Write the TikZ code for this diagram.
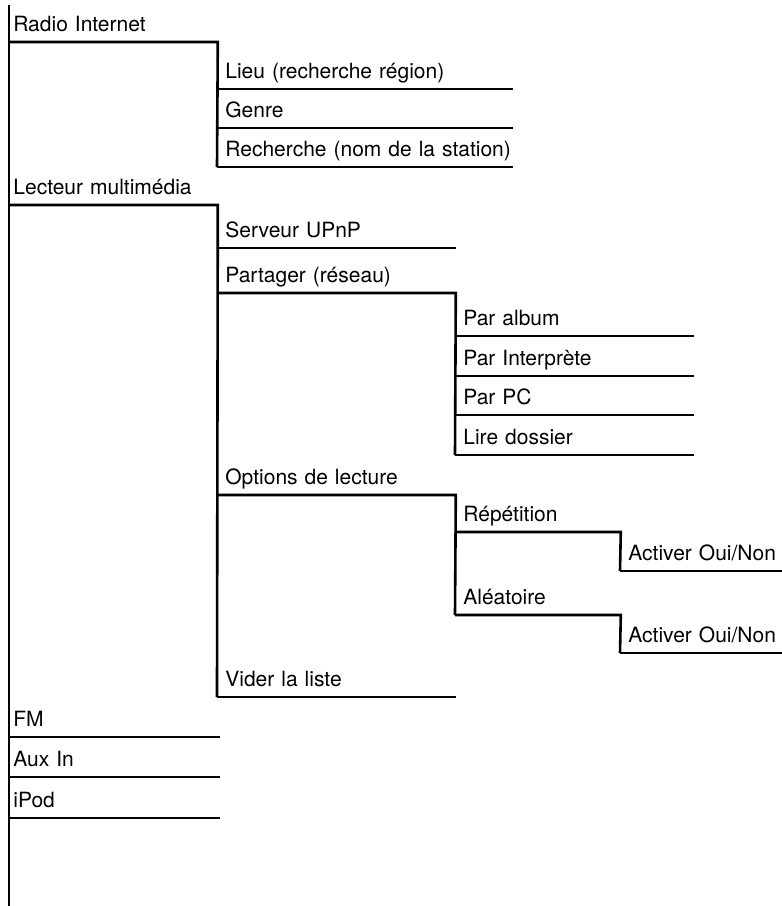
\documentclass[tikz,border=0pt]{standalone}
\usepackage{fontspec}
\setmainfont{TeX Gyre Heros}
\usepackage{tikz}

\tikzset{
  rule/.style={line width=1.3pt},
  toplevel/.style={anchor=south west, inner xsep=0pt, inner ysep=2.5pt,
    text depth=2.5pt, text width=#1, align=left,
    font=\fontsize{10.5}{12}\selectfont,
    execute at begin node={\hspace*{2pt}\hbox\bgroup},
    execute at end node={\egroup}},
  sublevel/.style={anchor=south west, inner xsep=0pt, inner ysep=2.5pt,
    text depth=2.5pt, text width=#1, align=left,
    font=\fontsize{10.5}{12}\selectfont,
    execute at begin node={\hspace*{4pt}\hbox\bgroup},
    execute at end node={\egroup}},
}

\begin{document}
\begin{tikzpicture}[x=0.5pt,y=-0.5pt]
\useasboundingbox (0,0) rectangle (782,906);
\coordinate (root) at (9,5);
\coordinate (rootend) at (9,906);
% first level
\node[toplevel=104pt] (radio) at (9,42) {Radio Internet};
\node[toplevel=104pt] (lecteur) at (9,205) {Lecteur multimédia};
\node[toplevel=105pt] (fm) at (9,737) {FM};
\node[toplevel=105pt] (aux) at (9,777) {Aux In};
\node[toplevel=105pt] (ipod) at (9,818) {iPod};
% radio internet
\node[sublevel=147.5pt] (lieu) at (217,89) {Lieu (recherche région)};
\node[sublevel=147.5pt] (genre) at (217,128) {Genre};
\node[sublevel=147.5pt] (recherche) at (217,167) {Recherche (nom de la station)};
% lecteur multimedia
\node[sublevel=119pt] (upnp) at (217,248) {Serveur UPnP};
\node[sublevel=119pt] (partager) at (217,293) {Partager (réseau)};
\node[sublevel=119pt] (options) at (217,495) {Options de lecture};
\node[sublevel=119pt] (vider) at (217,697) {Vider la liste};
% partager
\node[sublevel=119pt] (album) at (455,336) {Par album};
\node[sublevel=119pt] (interprete) at (455,376) {Par Interprète};
\node[sublevel=119pt] (pc) at (455,415) {Par PC};
\node[sublevel=119pt] (dossier) at (455,455) {Lire dossier};
% options de lecture
\node[sublevel=82.5pt] (repetition) at (455,532) {Répétition};
\node[sublevel=81pt] (activerA) at (620,571) {Activer Oui/Non};
\node[sublevel=82.5pt] (aleatoire) at (455,615) {Aléatoire};
\node[sublevel=81pt] (activerB) at (620,653) {Activer Oui/Non};

\draw[rule] (root) -- (rootend);
\draw[rule] (radio.south west) -- (radio.south east) -- (recherche.south west);
\draw[rule] (lecteur.south west) -- (lecteur.south east) -- (vider.south west);
\draw[rule] (partager.south west) -- (partager.south east) -- (dossier.south west);
\draw[rule] (options.south west) -- (options.south east) -- (aleatoire.south west);
\draw[rule] (repetition.south west) -- (repetition.south east) -- (activerA.south west);
\draw[rule] (aleatoire.south west) -- (aleatoire.south east) -- (activerB.south west);
\foreach \n in {fm,aux,ipod,lieu,genre,recherche,upnp,vider,album,interprete,pc,dossier,activerA,activerB}
  \draw[rule] (\n.south west) -- (\n.south east);
\end{tikzpicture}
\end{document}
